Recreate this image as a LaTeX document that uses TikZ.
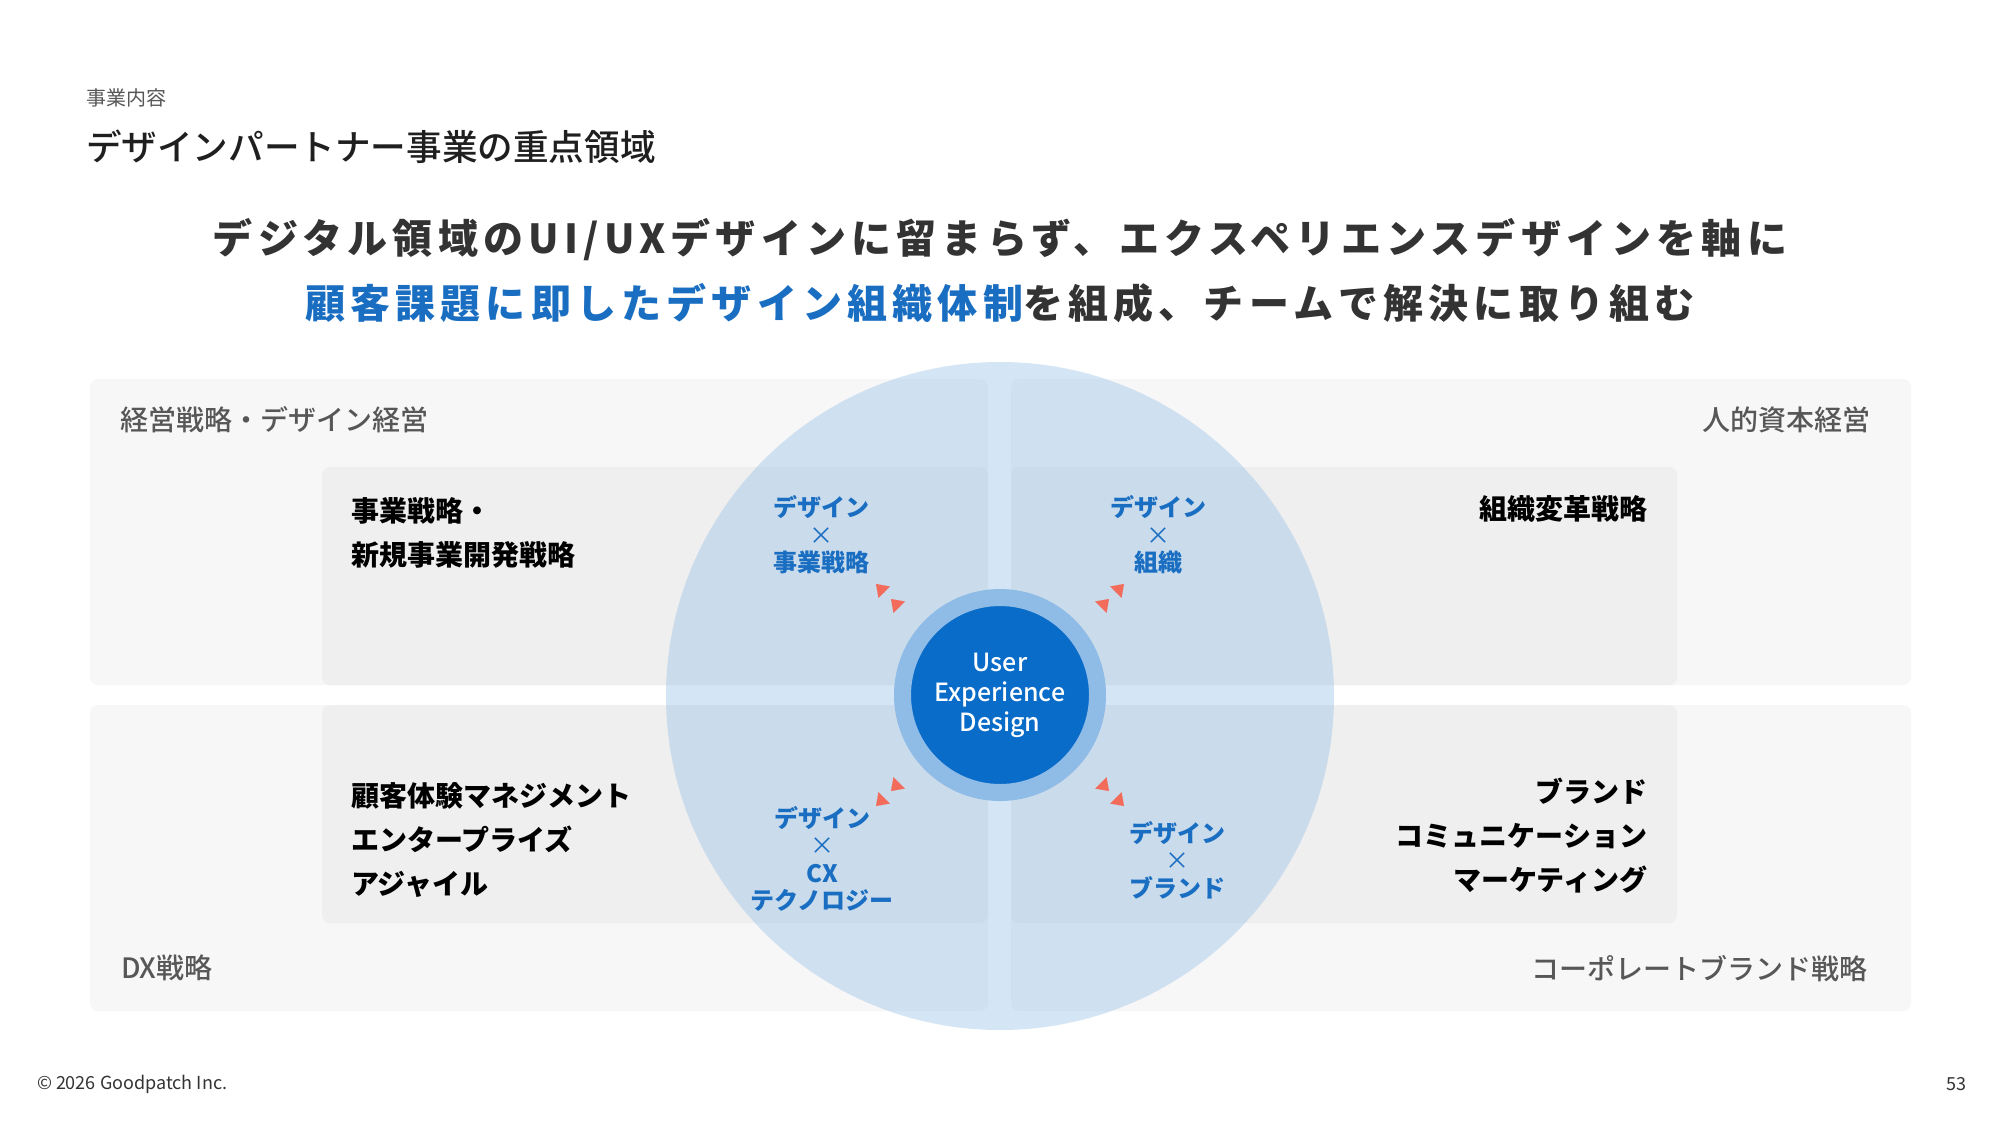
\documentclass[tikz,border=0pt]{standalone}
\usepackage{fontspec}
\setmainfont{Noto Sans CJK JP}
\newfontfamily\medfont{Noto Sans CJK JP Medium}
\usetikzlibrary{arrows.meta}
\definecolor{ringblue}{HTML}{8FBCE7}
\definecolor{coreblue}{HTML}{0A6CC9}
\definecolor{txtblue}{HTML}{1A6EC2}
\definecolor{headgray}{HTML}{333333}
\definecolor{labgray}{HTML}{575757}
\definecolor{outerpanel}{HTML}{F7F7F7}
\definecolor{innerpanel}{HTML}{EFEFEF}
\definecolor{coral}{HTML}{F26B5B}
\tikzset{
  lbl/.style={inner sep=0pt, outer sep=0pt},
  catlabel/.style={lbl, font=\fontsize{14pt}{16pt}\selectfont\medfont, text=labgray},
  innerlabel/.style={lbl, font=\fontsize{14pt}{22pt}\selectfont\bfseries, text=black},
  bluelabel/.style={lbl, font=\fontsize{12pt}{13.7pt}\selectfont\bfseries, text=txtblue, align=center},
  outerbox/.style={fill=outerpanel, rounded corners=4pt},
  innerbox/.style={fill=innerpanel, rounded corners=4pt},
  tipper/.style={draw=coral, line width=0.01pt, -{Triangle[length=5.75pt,width=8pt,color=coral]}},
}
\newcommand{\tms}{{\mdseries\normalfont ×}}
\begin{document}
\begin{tikzpicture}[x=0.5pt,y=-0.5pt]
\useasboundingbox (0,0) rectangle (2000,1125);
\fill[white] (0,0) rectangle (2000,1125);

% header
\node[lbl, anchor=west, font=\fontsize{10pt}{12pt}\selectfont, text=labgray] (kicker) at (86,98) {事業内容};
\node[lbl, anchor=west, font=\fontsize{17.8pt}{20pt}\selectfont\medfont, text=black!88] (title) at (86,147) {デザインパートナー事業の重点領域};
\node[lbl, font=\fontsize{20pt}{24pt}\selectfont\bfseries\addfontfeature{LetterSpace=13}, text=headgray] (head1) at (1000,240) {デジタル領域のUI/UXデザインに留まらず、エクスペリエンスデザインを軸に};
\node[lbl, font=\fontsize{20pt}{24pt}\selectfont\bfseries\addfontfeature{LetterSpace=13}, text=headgray] (head2) at (1000,303) {{\color{txtblue}顧客課題に即したデザイン組織体制}を組成、チームで解決に取り組む};

% panels
\fill[outerbox] (90,379) rectangle (988,685);
\fill[outerbox] (1011,379) rectangle (1911,685);
\fill[outerbox] (90,705) rectangle (988,1011);
\fill[outerbox] (1011,705) rectangle (1911,1011);
\fill[innerbox] (322,467) rectangle (988,685);
\fill[innerbox] (1011,467) rectangle (1677,685);
\fill[innerbox] (322,705) rectangle (988,923);
\fill[innerbox] (1011,705) rectangle (1677,923);

% big translucent circle
\fill[ringblue, fill opacity=0.375] (1000,696) circle[radius=167pt];

% category labels
\node[catlabel, anchor=west] (q1) at (120,420) {経営戦略・デザイン経営};
\node[catlabel, anchor=east] (q2) at (1870,420) {人的資本経営};
\node[catlabel, anchor=west] (q3) at (121,968) {DX戦略};
\node[catlabel, anchor=east] (q4) at (1867,969) {コーポレートブランド戦略};

% inner labels
\node[innerlabel, anchor=west, align=left] (i1) at (351,533) {事業戦略・\\新規事業開発戦略};
\node[innerlabel, anchor=east, align=right] (i2) at (1647,509) {組織変革戦略};
\node[innerlabel, anchor=west, align=left] (i3) at (351,840) {顧客体験マネジメント\\エンタープライズ\\アジャイル};
\node[innerlabel, anchor=east, align=right] (i4) at (1647,836) {ブランド\\コミュニケーション\\マーケティング};

% blue labels
\node[bluelabel] (b1) at (821,535) {デザイン\\\tms\\事業戦略};
\node[bluelabel] (b2) at (1158,535) {デザイン\\\tms\\組織};
\node[bluelabel] (b3) at (822,859) {デザイン\\\tms\\CX\\テクノロジー};
\node[bluelabel] (b4) at (1177,860) {デザイン\\\tms\\ブランド};

% center
\node[circle, inner sep=0pt, minimum size=97.5pt, fill=coreblue, draw=ringblue, line width=8.5pt,
      text=white, align=center, font=\fontsize{12.5pt}{15pt}\selectfont\medfont] (ux) at (1000,695)
      {User\\Experience\\Design};

% arrow tips pairs
\coordinate (tla) at (876,584);   \coordinate (tlas) at (884.5,592.5);
\coordinate (tlb) at (891,599);   \coordinate (tlbs) at (899.5,607.5);
\coordinate (tra) at (1124,584);  \coordinate (tras) at (1115.5,592.5);
\coordinate (trb) at (1109,599);  \coordinate (trbs) at (1100.5,607.5);
\coordinate (bla) at (876,806);   \coordinate (blas) at (884.5,797.5);
\coordinate (blb) at (891,791);   \coordinate (blbs) at (899.5,782.5);
\coordinate (bra) at (1124,806);  \coordinate (bras) at (1115.5,797.5);
\coordinate (brb) at (1109,791);  \coordinate (brbs) at (1100.5,782.5);
\draw[tipper] (tlas) -- (tla);
\draw[tipper] (tlbs) -- (tlb);
\draw[tipper] (tras) -- (tra);
\draw[tipper] (trbs) -- (trb);
\draw[tipper] (blas) -- (bla);
\draw[tipper] (blbs) -- (blb);
\draw[tipper] (bras) -- (bra);
\draw[tipper] (brbs) -- (brb);

% footer
\node[lbl, anchor=west, font=\fontsize{9pt}{10pt}\selectfont, text=headgray] (copy) at (37,1084) {© 2026 Goodpatch Inc.};
\node[lbl, anchor=east, font=\fontsize{9pt}{10pt}\selectfont, text=headgray] (page) at (1966,1084) {53};
\end{tikzpicture}
\end{document}
